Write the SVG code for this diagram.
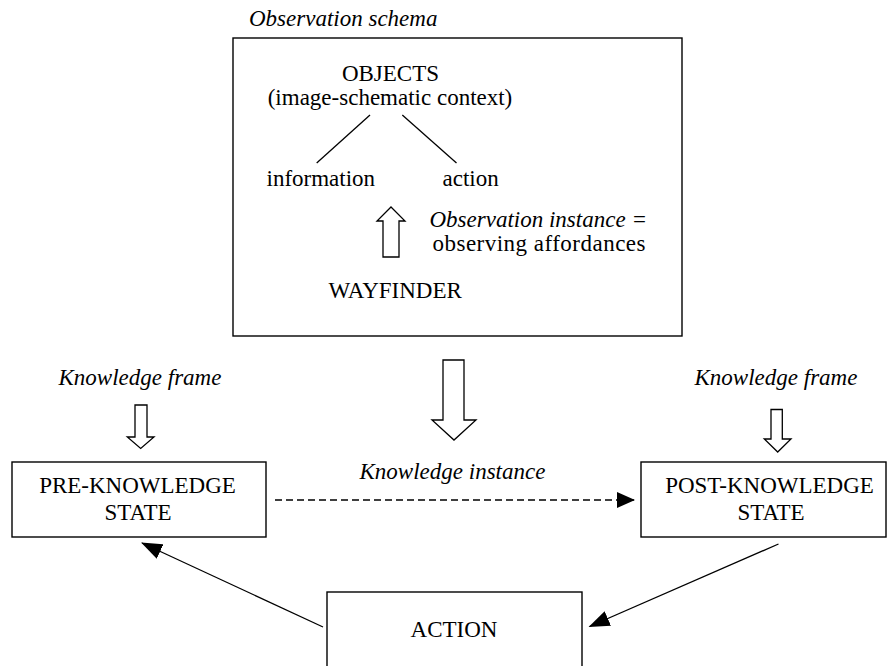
<svg xmlns="http://www.w3.org/2000/svg" width="887" height="666" viewBox="0 0 887 666">
<style>
text{font-family:"Liberation Serif","Times New Roman",serif;font-size:23px;fill:#000}
.it{font-style:italic}
.box{fill:#fff;stroke:#000;stroke-width:1.4}
.ln{fill:none;stroke:#000;stroke-width:1.3}
.hollow{fill:#fff;stroke:#000;stroke-width:1.3;stroke-linejoin:miter}
.dash{stroke-dasharray:7,4}
</style>
<defs>
<marker id="tri" viewBox="0 0 18 16" refX="17" refY="8" markerWidth="18" markerHeight="16" markerUnits="userSpaceOnUse" orient="auto">
<path d="M0,0 L18,8 L0,16 z" fill="#000"/>
</marker>
<marker id="tri2" viewBox="0 0 21 16" refX="20" refY="8" markerWidth="21" markerHeight="16" markerUnits="userSpaceOnUse" orient="auto">
<path d="M0,0 L21,8 L0,16 z" fill="#000"/>
</marker>
</defs>

<g id="observation-schema">
<text class="it" x="249" y="26">Observation schema</text>
<rect class="box" x="233" y="38" width="449" height="298"/>
</g>
<g id="objects">
<text x="390.5" y="81" text-anchor="middle">OBJECTS</text>
<text x="390" y="105" text-anchor="middle">(image-schematic context)</text>
</g>
<g id="information"><text x="266.5" y="186">information</text></g>
<g id="action-label"><text x="442.5" y="186">action</text></g>
<g id="observation-instance">
<text class="it" x="429.5" y="226.5">Observation instance</text>
<text x="633" y="226.5">=</text>
<text x="432.5" y="250.5" textLength="213" lengthAdjust="spacing">observing affordances</text>
</g>
<g id="wayfinder"><text x="328.5" y="298">WAYFINDER</text></g>

<g id="knowledge-frame-left"><text class="it" x="58.5" y="385">Knowledge frame</text></g>
<g id="knowledge-frame-right"><text class="it" x="694.5" y="385">Knowledge frame</text></g>
<g id="knowledge-instance"><text class="it" x="359.5" y="479">Knowledge instance</text></g>

<g id="pre-knowledge-state">
<rect class="box" x="12" y="462" width="254" height="75"/>
<text x="137.5" y="492.5" text-anchor="middle">PRE-KNOWLEDGE</text>
<text x="138" y="520" text-anchor="middle">STATE</text>
</g>
<g id="post-knowledge-state">
<rect class="box" x="641" y="462" width="245" height="75"/>
<text x="769.5" y="492.5" text-anchor="middle">POST-KNOWLEDGE</text>
<text x="771" y="520" text-anchor="middle">STATE</text>
</g>
<g id="action">
<rect class="box" x="327" y="592" width="255" height="100"/>
<text x="454" y="637" text-anchor="middle">ACTION</text>
</g>

<g id="connectors">
<line class="ln" x1="370" y1="115" x2="316.7" y2="163"/>
<line class="ln" x1="402.3" y1="115" x2="456.5" y2="163"/>
<polygon class="hollow" points="391,207 405,221 399,221 399,257 383,257 383,221 377,221"/>
<polygon class="hollow" points="443,360 464,360 464,420 476,420 454,440 432,420 443,420"/>
<polygon class="hollow" points="135,405 147,405 147,437 154,437 140.7,448.5 127.3,437 135,437"/>
<polygon class="hollow" points="771,409.5 782.3,409.5 782.3,439 791,439 777.7,452 764.3,439 771,439"/>
<line class="ln dash" x1="275" y1="500" x2="634" y2="500" marker-end="url(#tri)"/>
<line class="ln" x1="323" y1="627" x2="142" y2="543" marker-end="url(#tri2)"/>
<line class="ln" x1="778.5" y1="544" x2="589.5" y2="626.5" marker-end="url(#tri2)"/>
</g>
</svg>
